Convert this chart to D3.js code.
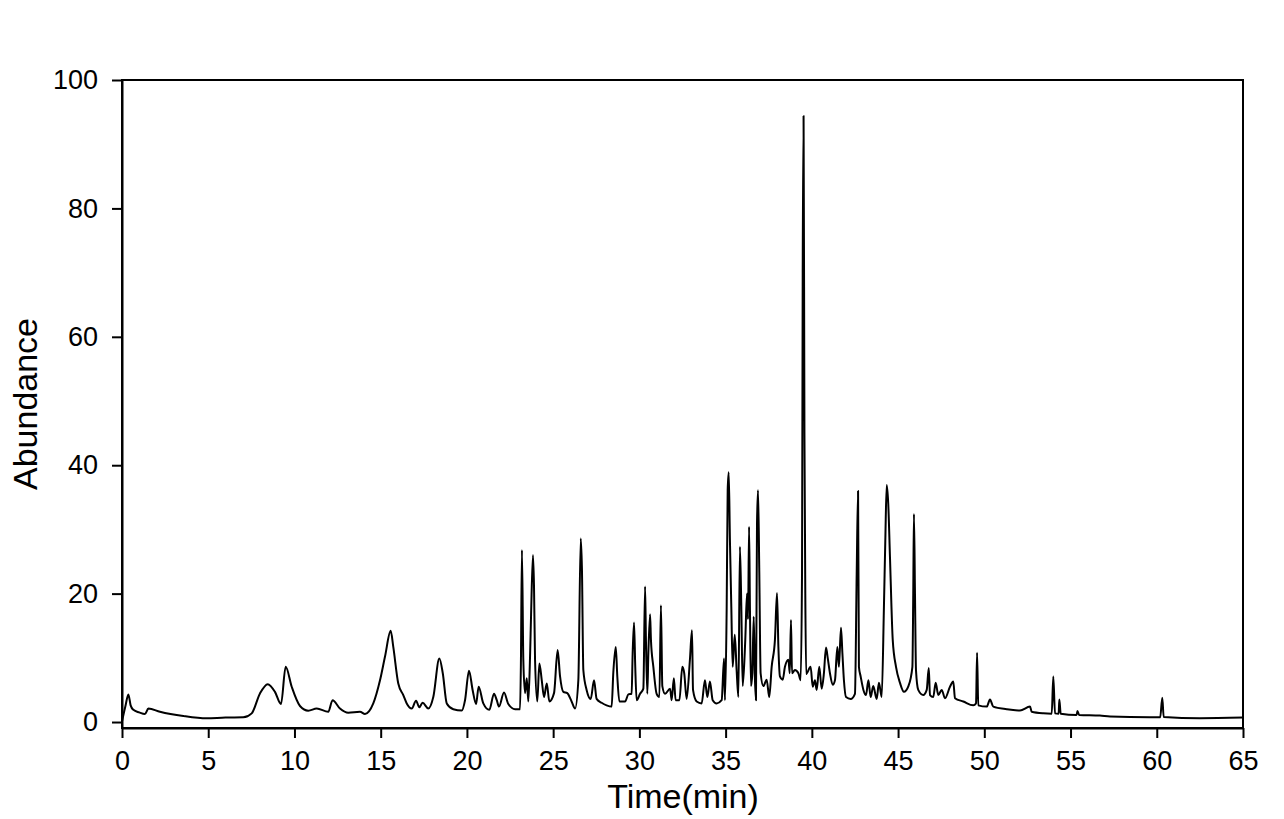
<!DOCTYPE html>
<html>
<head>
<meta charset="utf-8">
<script src="https://cdn.jsdelivr.net/npm/d3@7"></script>
<style>
  html, body { margin: 0; padding: 0; background: #fff; }
  text { font-family: Arial, "Liberation Sans", sans-serif; fill: #000; }
</style>
</head>
<body>
<svg id="chart" width="1284" height="819"></svg>
<script>
// Retention time (min)
const retentionTimes = [
  0, 0.2, 0.37, 0.5, 0.66, 1.0, 1.33, 1.53, 2.2, 3.56, 4.91, 6.0, 7.03, 7.52, 8.0, 8.45, 8.87, 9.22, 9.49, 9.84,
  10.32, 10.8, 11.29, 11.96, 12.21, 12.64, 13.12, 13.8, 14.09, 14.57, 14.96, 15.25, 15.58, 15.73, 16.02, 16.31, 16.51, 16.8, 17.05, 17.24,
  17.43, 17.76, 18.05, 18.4, 18.6, 18.83, 19.21, 19.7, 19.89, 20.12, 20.33, 20.53, 20.68, 20.95, 21.3, 21.57, 21.73, 21.86, 22.15, 22.4,
  22.79, 23.08, 23.13, 23.19, 23.27, 23.37, 23.47, 23.56, 23.66, 23.72, 23.83, 23.89, 23.95, 24.08, 24.2, 24.34, 24.47, 24.63, 24.78, 25.05,
  25.26, 25.4, 25.59, 25.82, 26.07, 26.27, 26.46, 26.6, 26.67, 26.75, 26.94, 27.18, 27.37, 27.52, 27.81, 28.1, 28.39, 28.49, 28.63, 28.72,
  28.84, 29.17, 29.36, 29.55, 29.61, 29.69, 29.76, 29.84, 30.04, 30.23, 30.33, 30.38, 30.46, 30.52, 30.62, 30.67, 30.81, 31.0, 31.16, 31.25,
  31.33, 31.49, 31.78, 31.87, 32.0, 32.1, 32.32, 32.49, 32.6, 32.74, 32.93, 33.05, 33.11, 33.32, 33.61, 33.8, 33.94, 34.09, 34.25, 34.48,
  34.77, 34.91, 34.96, 35.06, 35.12, 35.18, 35.25, 35.33, 35.41, 35.53, 35.64, 35.74, 35.83, 35.91, 35.99, 36.14, 36.24, 36.3, 36.36, 36.41,
  36.47, 36.55, 36.63, 36.69, 36.76, 36.82, 36.88, 36.95, 37.03, 37.19, 37.38, 37.53, 37.67, 37.86, 37.98, 38.06, 38.15, 38.31, 38.44, 38.64,
  38.72, 38.79, 38.85, 39.02, 39.22, 39.35, 39.43, 39.47, 39.52, 39.57, 39.62, 39.67, 39.93, 40.05, 40.18, 40.28, 40.43, 40.57, 40.7, 40.82,
  40.92, 41.05, 41.21, 41.34, 41.48, 41.57, 41.69, 41.77, 41.86, 41.98, 42.25, 42.5, 42.6, 42.68, 42.73, 42.83, 42.99, 43.14, 43.28, 43.41,
  43.56, 43.76, 43.89, 44.05, 44.18, 44.26, 44.34, 44.43, 44.53, 44.69, 44.88, 45.11, 45.34, 45.6, 45.83, 45.88, 45.92, 45.98, 46.04, 46.17,
  46.46, 46.66, 46.78, 46.85, 47.04, 47.18, 47.33, 47.53, 47.72, 48.01, 48.2, 48.3, 48.78, 49.36, 49.52, 49.58, 49.65, 50.14, 50.33, 50.52,
  51.3, 52.07, 52.65, 52.75, 53.42, 53.91, 54.0, 54.1, 54.31, 54.35, 54.43, 55.35, 55.4, 55.5, 56.7, 57.29, 59.6, 60.2, 60.32, 60.4,
  62.5, 65
];
// Relative abundance at each retention time
const abundances = [
  0.1, 2.5, 4.3, 2.6, 1.9, 1.5, 1.25, 2.1, 1.6, 0.93, 0.57, 0.7, 0.73, 1.35, 4.46, 5.9, 4.7, 2.8, 8.6, 5.5,
  2.5, 1.77, 2.1, 1.6, 3.4, 2.1, 1.45, 1.6, 1.25, 2.9, 6.5, 10.2, 14.2, 11.7, 6.0, 4.2, 2.9, 2.1, 3.3, 2.3,
  3.0, 2.1, 3.9, 9.9, 7.6, 2.9, 2.0, 1.8, 3.4, 8.0, 5.0, 2.8, 5.5, 2.9, 1.9, 4.4, 3.4, 2.4, 4.6, 2.8,
  2.0, 2.0, 9.1, 26.8, 9.7, 4.5, 6.8, 3.2, 10.2, 16.7, 26.0, 21.1, 9.7, 3.2, 9.1, 6.5, 3.9, 6.0, 3.2, 4.5,
  11.2, 7.1, 4.7, 4.5, 3.2, 2.1, 6.5, 28.6, 23.7, 8.1, 5.0, 3.6, 6.5, 3.6, 3.0, 2.6, 2.4, 7.8, 11.7, 7.1,
  3.2, 3.2, 4.3, 4.4, 10.7, 15.5, 8.6, 3.4, 4.4, 5.2, 21.1, 12.8, 4.4, 10.7, 16.8, 12.8, 8.6, 4.4, 3.9, 18.2,
  5.6, 4.4, 5.2, 3.4, 6.8, 3.4, 3.4, 8.6, 7.6, 3.6, 9.7, 14.3, 5.0, 3.2, 2.9, 6.5, 3.9, 6.3, 3.4, 2.9,
  3.4, 9.9, 3.4, 17.4, 36.1, 38.9, 28.3, 18.0, 8.6, 13.6, 8.0, 3.9, 27.3, 18.0, 5.6, 12.8, 20.0, 16.0, 30.4, 18.0,
  5.6, 7.6, 16.4, 7.6, 3.4, 30.9, 36.1, 24.0, 7.6, 5.6, 6.6, 3.9, 8.6, 12.8, 20.1, 11.7, 7.1, 6.6, 8.6, 9.7,
  7.6, 15.9, 7.6, 8.1, 7.6, 6.5, 23.2, 70.0, 94.4, 45.2, 20.0, 7.5, 8.6, 5.5, 6.5, 5.0, 8.6, 5.2, 7.6, 11.6,
  10.0, 7.6, 5.8, 6.5, 11.7, 8.6, 14.7, 10.8, 6.5, 3.9, 3.6, 4.4, 23.0, 36.0, 8.6, 7.1, 5.0, 4.2, 6.5, 3.9,
  5.6, 3.6, 6.1, 3.9, 18.0, 28.3, 36.9, 34.0, 25.7, 12.8, 8.6, 6.1, 4.7, 5.6, 8.6, 20.0, 32.4, 20.0, 8.0, 5.0,
  4.2, 5.0, 8.4, 4.2, 3.9, 6.1, 4.2, 5.0, 3.7, 5.5, 6.3, 3.7, 3.2, 2.6, 2.9, 10.8, 2.6, 2.4, 3.5, 2.4,
  2.0, 1.8, 2.4, 1.6, 1.35, 1.3, 7.1, 1.35, 1.3, 3.5, 1.3, 1.1, 1.7, 1.1, 1.0, 0.85, 0.73, 0.75, 3.8, 0.8,
  0.6, 0.7
];
const xTicks = [0, 5, 10, 15, 20, 25, 30, 35, 40, 45, 50, 55, 60, 65];
const yTicks = [0, 20, 40, 60, 80, 100];
const xTitle = "Time(min)";
const yTitle = "Abundance";

const svg = d3.select("#chart");
const plotLeft = 122, plotRight = 1243, plotTop = 80, plotBottom = 728;

const x = d3.scaleLinear().domain([0, 65]).range([plotLeft, plotRight]);
const y = d3.scaleLinear().domain([-0.93, 100]).range([plotBottom, plotTop]);

const points = retentionTimes.map((t, i) => [t, abundances[i]]);

// frame
svg.append("rect")
  .attr("x", plotLeft).attr("y", plotTop)
  .attr("width", plotRight - plotLeft).attr("height", plotBottom - plotTop)
  .attr("fill", "none").attr("stroke", "#000").attr("stroke-width", 2);

// trace
svg.append("path")
  .datum(points)
  .attr("fill", "none")
  .attr("stroke", "#000")
  .attr("stroke-width", 2)
  .attr("stroke-linejoin", "round")
  .attr("d", d3.line().curve(d3.curveMonotoneX).x(d => x(d[0])).y(d => y(d[1])));

// axes
const xAxis = d3.axisBottom(x).tickValues(xTicks).tickSize(10).tickSizeOuter(0).tickPadding(13).tickFormat(d3.format("d"));
const gx = svg.append("g").attr("transform", `translate(0,${plotBottom})`).call(xAxis);
const yAxis = d3.axisLeft(y).tickValues(yTicks).tickSize(10).tickSizeOuter(0).tickPadding(14).tickFormat(d3.format("d"));
const gy = svg.append("g").attr("transform", `translate(${plotLeft},0)`).call(yAxis);

[gx, gy].forEach(g => {
  g.select(".domain").attr("stroke", "#000").attr("stroke-width", 2);
  g.selectAll(".tick line").attr("stroke", "#000").attr("stroke-width", 2);
  g.selectAll(".tick text").attr("font-size", 27).attr("font-family", "Arial, 'Liberation Sans', sans-serif").attr("fill", "#000");
});

svg.append("text")
  .attr("x", 683).attr("y", 808)
  .attr("text-anchor", "middle")
  .attr("font-size", 34)
  .text(xTitle);

svg.append("text")
  .attr("transform", "translate(37,404) rotate(-90)")
  .attr("text-anchor", "middle")
  .attr("font-size", 34)
  .text(yTitle);
</script>
</body>
</html>
